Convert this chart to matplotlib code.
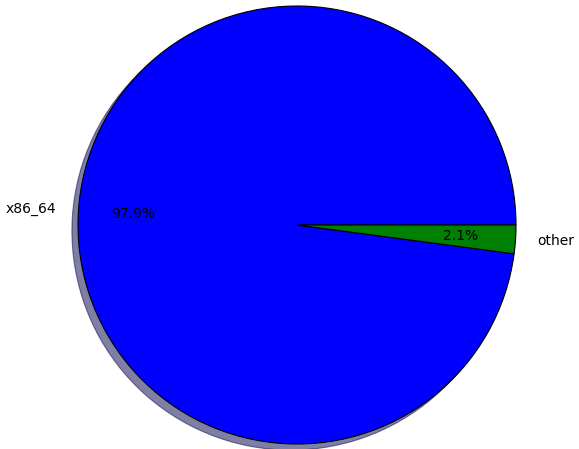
import matplotlib
matplotlib.use("Agg")
from matplotlib import pyplot as plt

labels = ["x86_64", "other"]
shares = [97.9, 2.1]
colors = ["blue", "green"]

fig = plt.figure(figsize=(5.79, 4.49), dpi=100)
ax = fig.add_axes([0, 0, 1, 1])
ax.pie(shares, labels=labels, colors=colors, autopct="%1.1f%%",
       pctdistance=0.75, labeldistance=1.1, shadow=True,
       wedgeprops={"edgecolor": "black", "linewidth": 0.8},
       textprops={"fontsize": 10})
ax.set_aspect("equal")
# pie centre at (297, 225) px, radius about 219 px
ax.set_xlim(-297 / 219, (579 - 297) / 219)
ax.set_ylim(-224 / 219, 225 / 219)
ax.axis("off")
fig.savefig("out.png", dpi=100)
